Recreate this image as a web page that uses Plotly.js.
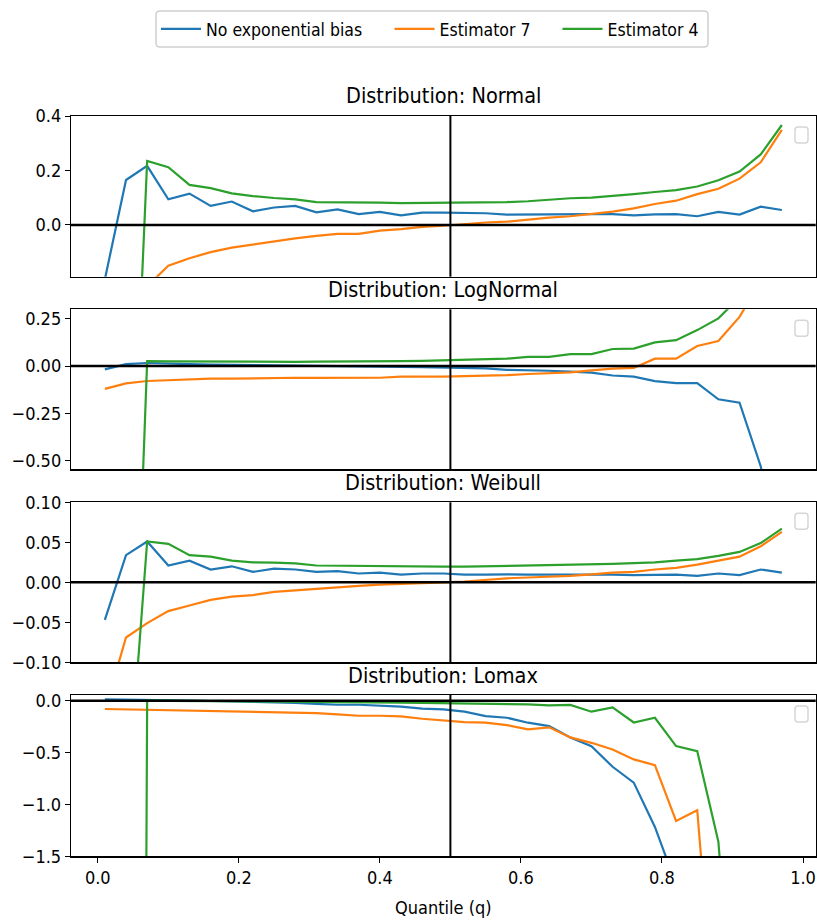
<!DOCTYPE html>
<html>
<head>
<meta charset="utf-8">
<script src="https://cdn.plot.ly/plotly-3.0.1.min.js"></script>
<style>html,body{margin:0;padding:0;background:#fff;}#chart{width:817px;height:920px;}</style>
</head>
<body>
<div id="chart"></div>
<script>
// Quantile levels
const q = [0.01,0.04,0.07,0.10,0.13,0.16,0.19,0.22,0.25,0.28,0.31,0.34,0.37,0.40,0.43,0.46,0.49,0.52,0.55,0.58,0.61,0.64,0.67,0.70,0.73,0.76,0.79,0.82,0.85,0.88,0.91,0.94,0.97];

const seriesNames = ["No exponential bias","Estimator 7","Estimator 4"];
const panelNames = ["Normal","LogNormal","Weibull","Lomax"];

// Normal
const normalNoBias = [-0.20,0.165,0.217,0.094,0.115,0.070,0.086,0.050,0.064,0.070,0.046,0.057,0.040,0.048,0.035,0.045,0.045,0.045,0.043,0.038,0.039,0.040,0.040,0.040,0.040,0.035,0.039,0.040,0.032,0.048,0.038,0.067,0.055];
const normalEst7 = [-0.50,-0.32,-0.225,-0.150,-0.122,-0.100,-0.083,-0.072,-0.059,-0.049,-0.040,-0.033,-0.033,-0.021,-0.015,-0.007,-0.003,0.004,0.009,0.012,0.020,0.027,0.032,0.040,0.049,0.061,0.077,0.089,0.113,0.133,0.170,0.230,0.349];
const normalEst4 = [-3.0,-1.55,0.235,0.212,0.147,0.135,0.116,0.106,0.099,0.094,0.084,0.084,0.082,0.082,0.080,0.081,0.081,0.083,0.082,0.084,0.087,0.092,0.098,0.100,0.106,0.113,0.121,0.128,0.141,0.164,0.196,0.259,0.367];

// LogNormal
const lognormNoBias = [-0.018,0.010,0.016,0.012,0.010,0.008,0.007,0.006,0.005,0.004,0.003,0.002,0.000,-0.002,-0.004,-0.006,-0.007,-0.008,-0.012,-0.020,-0.022,-0.025,-0.030,-0.035,-0.050,-0.056,-0.080,-0.090,-0.090,-0.176,-0.194,-0.530,-1.00];
const lognormEst7 = [-0.121,-0.092,-0.079,-0.074,-0.069,-0.067,-0.067,-0.065,-0.065,-0.062,-0.063,-0.062,-0.062,-0.062,-0.056,-0.057,-0.056,-0.053,-0.051,-0.048,-0.042,-0.037,-0.033,-0.023,-0.014,-0.010,0.039,0.039,0.106,0.132,0.260,0.45,0.70];
const lognormEst4 = [-6.0,-3.0,0.026,0.025,0.024,0.023,0.022,0.022,0.022,0.022,0.023,0.023,0.024,0.025,0.026,0.027,0.030,0.033,0.033,0.039,0.048,0.048,0.063,0.063,0.090,0.092,0.125,0.137,0.190,0.252,0.364,0.52,0.80];

// Weibull
const weibullNoBias = [-0.047,0.034,0.051,0.021,0.027,0.016,0.020,0.013,0.017,0.016,0.013,0.014,0.011,0.012,0.0095,0.011,0.011,0.0095,0.0095,0.010,0.0095,0.0095,0.010,0.0095,0.0095,0.009,0.0095,0.0095,0.008,0.011,0.009,0.016,0.012];
const weibullEst7 = [-0.16,-0.069,-0.051,-0.036,-0.029,-0.022,-0.018,-0.016,-0.012,-0.010,-0.008,-0.006,-0.0045,-0.003,-0.0017,-0.001,0.000,0.001,0.003,0.005,0.006,0.007,0.008,0.010,0.012,0.013,0.016,0.018,0.022,0.027,0.032,0.045,0.063];
const weibullEst4 = [-0.6,-0.30,0.051,0.048,0.034,0.032,0.027,0.025,0.0245,0.0236,0.021,0.0207,0.020,0.0195,0.020,0.0195,0.0195,0.0195,0.020,0.020,0.021,0.021,0.022,0.022,0.023,0.024,0.025,0.027,0.029,0.033,0.038,0.049,0.067];

// Lomax
const lomaxNoBias = [0.013,0.008,0.004,0.002,0.000,-0.003,-0.008,-0.006,-0.016,-0.020,-0.030,-0.039,-0.039,-0.048,-0.058,-0.077,-0.084,-0.106,-0.148,-0.164,-0.212,-0.245,-0.354,-0.438,-0.637,-0.790,-1.217,-1.77,-2.6,-3.6,-5.0,-7.0,-10.0];
const lomaxEst7 = [-0.080,-0.084,-0.087,-0.090,-0.093,-0.097,-0.100,-0.103,-0.113,-0.113,-0.119,-0.132,-0.145,-0.145,-0.151,-0.174,-0.190,-0.206,-0.212,-0.235,-0.277,-0.257,-0.354,-0.406,-0.470,-0.566,-0.621,-1.159,-1.056,-3.2,-5.0,-7.5,-11.0];
const lomaxEst4 = [-80,-40,0.000,-0.001,-0.002,-0.003,-0.004,-0.005,-0.006,-0.007,-0.008,-0.009,-0.010,-0.015,-0.018,-0.020,-0.022,-0.024,-0.025,-0.030,-0.035,-0.045,-0.040,-0.106,-0.064,-0.210,-0.164,-0.438,-0.486,-1.36,-3.5,-6.0,-9.0];

// Axis ranges and ticks
const xRange = [-0.038, 1.018];
const xTicks = [0.0,0.2,0.4,0.6,0.8,1.0];
const yRanges = [[-0.19,0.4],[-0.546,0.30],[-0.10,0.10],[-1.5,0.055]];
const yTicks = [[0.0,0.2,0.4],[-0.50,-0.25,0.00,0.25],[-0.10,-0.05,0.00,0.05,0.10],[-1.5,-1.0,-0.5,0.0]];
const yTickFormats = [".1f",".2f",".2f",".1f"];

const panelData = [
  [normalNoBias, normalEst7, normalEst4],
  [lognormNoBias, lognormEst7, lognormEst4],
  [weibullNoBias, weibullEst7, weibullEst4],
  [lomaxNoBias, lomaxEst7, lomaxEst4]
];
const colors = ["#1f77b4","#ff7f0e","#2ca02c"];
const legendIds = ["legend","legend2","legend3"];

const W = 817, H = 920;
const FONT = "'DejaVu Sans Condensed', 'Liberation Sans Narrow', 'DejaVu Sans', sans-serif";
const plotLeft = 71, plotRight = 815.7;
const panelBoxes = [[116,276.7],[309.3,469.3],[502.3,662.3],[695,856.3]];

const traces = [];
panelData.forEach((series, p) => {
  series.forEach((ys, s) => {
    traces.push({
      x: q, y: ys, type: "scatter", mode: "lines",
      name: seriesNames[s],
      legend: legendIds[s],
      legendgroup: seriesNames[s],
      showlegend: p === 0,
      line: {color: colors[s], width: 2.2},
      xaxis: p === 0 ? "x" : "x" + (p + 1),
      yaxis: p === 0 ? "y" : "y" + (p + 1),
      hoverinfo: "skip"
    });
  });
});

const px2x = v => v / W;
const px2y = v => 1 - v / H;

function roundRect(x0, y0, x1, y1, r) {
  return [
    `M ${px2x(x0 + r)} ${px2y(y0)}`,
    `L ${px2x(x1 - r)} ${px2y(y0)}`,
    `Q ${px2x(x1)} ${px2y(y0)} ${px2x(x1)} ${px2y(y0 + r)}`,
    `L ${px2x(x1)} ${px2y(y1 - r)}`,
    `Q ${px2x(x1)} ${px2y(y1)} ${px2x(x1 - r)} ${px2y(y1)}`,
    `L ${px2x(x0 + r)} ${px2y(y1)}`,
    `Q ${px2x(x0)} ${px2y(y1)} ${px2x(x0)} ${px2y(y1 - r)}`,
    `L ${px2x(x0)} ${px2y(y0 + r)}`,
    `Q ${px2x(x0)} ${px2y(y0)} ${px2x(x0 + r)} ${px2y(y0)}`,
    "Z"
  ].join(" ");
}

const legendBase = {
  orientation: "h", xanchor: "left", y: 1 - 11/H, yanchor: "top",
  borderwidth: 0, bgcolor: "rgba(0,0,0,0)",
  font: {family: FONT, size: 17.5, color: "#000"},
  itemwidth: 40
};
const legendStarts = [156, 389.5, 557.5];

const layout = {
  width: W, height: H,
  margin: {l: 0, r: 0, t: 0, b: 0},
  paper_bgcolor: "#fff", plot_bgcolor: "#fff",
  font: {family: FONT, color: "#000", size: 18},
  showlegend: true,
  legend: Object.assign({}, legendBase, {x: px2x(legendStarts[0])}),
  legend2: Object.assign({}, legendBase, {x: px2x(legendStarts[1])}),
  legend3: Object.assign({}, legendBase, {x: px2x(legendStarts[2])}),
  shapes: [{type: "path", xref: "paper", yref: "paper", path: roundRect(156, 11, 708, 47, 4),
    line: {color: "#d0d0d0", width: 1.5}, fillcolor: "rgba(255,255,255,0)", layer: "below"}],
  annotations: []
};

panelBoxes.forEach((box, p) => {
  const xa = p === 0 ? "xaxis" : "xaxis" + (p + 1);
  const ya = p === 0 ? "yaxis" : "yaxis" + (p + 1);
  const xr = p === 0 ? "x" : "x" + (p + 1);
  const yr = p === 0 ? "y" : "y" + (p + 1);
  const last = p === 3;
  layout[xa] = {
    domain: [px2x(plotLeft), px2x(plotRight)],
    anchor: yr, range: xRange,
    showgrid: false, zeroline: false,
    showline: true, mirror: true, linecolor: "#000", linewidth: 1.2,
    ticks: last ? "outside" : "", ticklen: 5, tickwidth: 1, tickcolor: "#000",
    showticklabels: last,
    tickvals: xTicks, tickformat: ".1f",
    tickfont: {family: FONT, size: 18, color: "#000"}
  };
  if (last) {
    layout[xa].title = {text: "Quantile (q)", font: {family: FONT, size: 18, color: "#000"}, standoff: 14};
  }
  layout[ya] = {
    domain: [px2y(box[1]), px2y(box[0])],
    anchor: xr, range: yRanges[p],
    showgrid: false, zeroline: false,
    showline: true, mirror: true, linecolor: "#000", linewidth: 1.2,
    ticks: "outside", ticklen: 5, tickwidth: 1, tickcolor: "#000",
    tickvals: yTicks[p], tickformat: yTickFormats[p],
    tickfont: {family: FONT, size: 18, color: "#000"}
  };
  layout.shapes.push({type: "line", xref: xr + " domain", yref: yr, x0: 0, x1: 1, y0: 0, y1: 0,
    line: {color: "#000", width: 2.6}, layer: "above"});
  layout.shapes.push({type: "line", xref: xr, yref: yr + " domain", x0: 0.5, x1: 0.5, y0: 0, y1: 1,
    line: {color: "#000", width: 2}, layer: "above"});
  layout.shapes.push({type: "path", xref: "paper", yref: "paper",
    path: roundRect(795, box[0] + 11, 808, box[0] + 27, 3),
    line: {color: "#d6d6d6", width: 1.5}, fillcolor: "rgba(255,255,255,0.8)", layer: "above"});
  layout.annotations.push({
    text: "Distribution: " + panelNames[p],
    xref: "paper", yref: "paper",
    x: px2x((plotLeft + plotRight) / 2), y: px2y(box[0] - 20),
    xanchor: "center", yanchor: "middle", showarrow: false,
    font: {family: FONT, size: 21.5, color: "#000"}
  });
});

Plotly.newPlot("chart", traces, layout, {displayModeBar: false, staticPlot: true});
</script>
</body>
</html>
